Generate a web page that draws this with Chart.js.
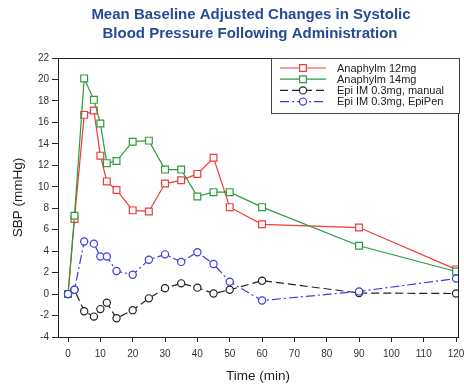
<!DOCTYPE html>
<html>
<head>
<meta charset="utf-8">
<script src="https://cdn.jsdelivr.net/npm/chart.js@4.4.1/dist/chart.umd.min.js"></script>
<style>
  html, body { margin: 0; padding: 0; background: #fff; }
  #wrap { width: 464px; height: 387px; }
</style>
</head>
<body>
<div id="wrap"><canvas id="sbpChart" width="464" height="387"></canvas></div>
<script>
// minutes after administration
const times = [0, 2, 5, 8, 10, 12, 15, 20, 25, 30, 35, 40, 45, 50, 60, 90, 120];

const anaphylm12 = [0, 7.0, 16.7, 17.1, 12.9, 10.5, 9.7, 7.8, 7.7, 10.3, 10.6, 11.2, 12.7, 8.1, 6.5, 6.2, 2.3];
const anaphylm14 = [0, 7.3, 20.1, 18.1, 15.9, 12.2, 12.4, 14.2, 14.3, 11.6, 11.6, 9.1, 9.5, 9.5, 8.1, 4.5, 2.1];
const epiManual  = [0, 0.4, -1.6, -2.1, -1.4, -0.8, -2.25, -1.5, -0.4, 0.55, 1.0, 0.6, 0.05, 0.4, 1.25, 0.1, 0.05];
const epiPen     = [0, 0.4, 4.9, 4.7, 3.5, 3.5, 2.15, 1.8, 3.2, 3.7, 3.0, 3.9, 2.8, 1.15, -0.6, 0.25, 1.45];

const seriesNames = ['Anaphylm 12mg', 'Anaphylm 14mg', 'Epi IM 0.3mg, manual', 'Epi IM 0.3mg, EpiPen'];
const xTicks = [0, 10, 20, 30, 40, 50, 60, 70, 80, 90, 100, 110, 120];
const titleLines = ['Mean Baseline Adjusted Changes in Systolic', 'Blood Pressure Following Administration'];

const FONT = '"Liberation Sans", Arial, sans-serif';
const styles = [
  { color: '#ee3b3b', dash: [], point: 'rect', radius: 4.8 },
  { color: '#2f9a3c', dash: [], point: 'rect', radius: 4.8 },
  { color: '#222222', dash: [8, 4], point: 'circle', radius: 3.6 },
  { color: '#3b3be0', dash: [9, 3, 2, 3], point: 'circle', radius: 3.6 }
];

function toPoints(vals) {
  return times.map((t, i) => ({ x: t, y: vals[i] }));
}

const allData = [anaphylm12, anaphylm14, epiManual, epiPen];
const datasets = allData.map((vals, i) => ({
  label: seriesNames[i],
  data: toPoints(vals),
  borderColor: styles[i].color,
  borderWidth: 1.2,
  borderDash: styles[i].dash,
  pointStyle: styles[i].point,
  pointRadius: styles[i].radius,
  pointBorderWidth: 1.2,
  pointBorderColor: styles[i].color,
  pointBackgroundColor: '#ffffff',
  fill: false,
  tension: 0,
  order: 4 - i
}));

// frame, title and legend
const decor = {
  id: 'decor',
  beforeDatasetsDraw(chart) {
    const { ctx, chartArea: a } = chart;
    ctx.save();
    ctx.strokeStyle = '#222';
    ctx.lineWidth = 1;
    ctx.strokeRect(Math.round(a.left) + 0.5, Math.round(a.top) + 0.5, Math.round(a.right - a.left), Math.round(a.bottom - a.top));
    ctx.restore();
  },
  afterDraw(chart) {
    const ctx = chart.ctx;
    ctx.save();
    ctx.fillStyle = '#264b94';
    ctx.font = 'bold 15px ' + FONT;
    ctx.textAlign = 'center';
    ctx.textBaseline = 'middle';
    ctx.fillText(titleLines[0], 251, 15);
    ctx.fillText(titleLines[1], 250, 34);

    // legend box
    const bx = 271, by = 58, bw = 188, bh = 55;
    ctx.fillStyle = '#fff';
    ctx.fillRect(bx, by, bw, bh);
    ctx.strokeStyle = '#444';
    ctx.lineWidth = 1;
    ctx.strokeRect(bx + 0.5, by + 0.5, bw, bh);

    ctx.font = '11px ' + FONT;
    ctx.textAlign = 'left';
    seriesNames.forEach((name, i) => {
      const y = 68 + i * 11.2;
      const s = styles[i];
      ctx.strokeStyle = s.color;
      ctx.lineWidth = 1.2;
      ctx.setLineDash(s.dash);
      ctx.beginPath();
      ctx.moveTo(280, y);
      ctx.lineTo(326, y);
      ctx.stroke();
      ctx.setLineDash([]);
      ctx.fillStyle = '#fff';
      ctx.beginPath();
      if (s.point === 'rect') {
        ctx.rect(303 - 3.4, y - 3.4, 6.8, 6.8);
      } else {
        ctx.arc(303, y, 3.6, 0, Math.PI * 2);
      }
      ctx.fill();
      ctx.stroke();
      ctx.fillStyle = '#222';
      ctx.fillText(name, 337, y + 0.5);
    });
    ctx.restore();
  }
};

new Chart(document.getElementById('sbpChart').getContext('2d'), {
  type: 'line',
  data: { datasets: datasets },
  options: {
    responsive: false,
    animation: false,
    layout: { padding: { top: 58, left: 0, right: 4, bottom: 0 } },
    plugins: {
      legend: { display: false },
      title: { display: false },
      tooltip: { enabled: false }
    },
    scales: {
      x: {
        type: 'linear',
        min: -3.1,
        max: 120.6,
        afterBuildTicks(scale) {
          scale.ticks = xTicks.map(v => ({ value: v }));
        },
        afterFit(scale) {
          scale.height = 50;
          scale.paddingLeft = 0;
          scale.paddingRight = 0;
        },
        grid: { drawOnChartArea: false, drawTicks: true, tickLength: 5, color: '#222' },
        border: { display: true, color: '#222' },
        ticks: { color: '#333', font: { family: FONT, size: 10 }, padding: 6, maxRotation: 0 },
        title: {
          display: true,
          text: 'Time (min)',
          color: '#222',
          font: { family: FONT, size: 13.5 },
          padding: { top: 0, bottom: 3 }
        }
      },
      y: {
        min: -4,
        max: 22,
        ticks: { stepSize: 2, color: '#333', font: { family: FONT, size: 10 }, padding: 3 },
        afterFit(scale) {
          scale.width = 58;
        },
        grid: { drawOnChartArea: false, drawTicks: true, tickLength: 6, color: '#222' },
        border: { display: true, color: '#222' },
        title: {
          display: true,
          text: 'SBP (mmHg)',
          color: '#222',
          font: { family: FONT, size: 13.5 },
          padding: { top: 10, bottom: 0 }
        }
      }
    }
  },
  plugins: [decor]
});
</script>
</body>
</html>
